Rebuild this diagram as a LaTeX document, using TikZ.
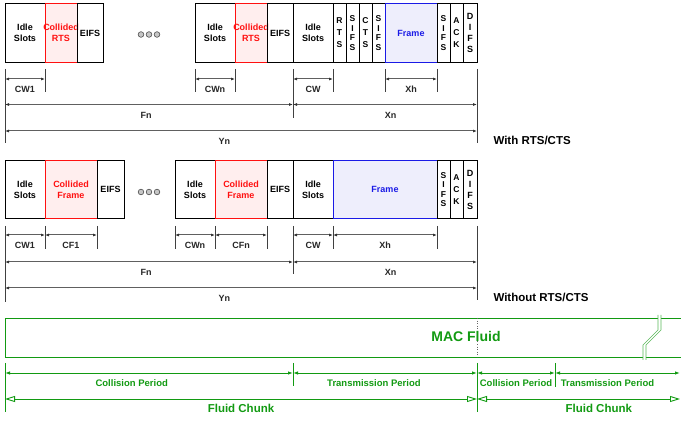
\documentclass[tikz,border=0pt]{standalone}
\usepackage{fontspec}
\setmainfont{Liberation Sans}
\usetikzlibrary{positioning,arrows.meta}
\definecolor{colred}{HTML}{FF1010}
\definecolor{colfill}{HTML}{FFEEEE}
\definecolor{frmblue}{HTML}{1A1AE6}
\definecolor{frmfill}{HTML}{EEEEFC}
\definecolor{dimgray}{HTML}{606060}
\definecolor{fluidgreen}{HTML}{129A12}
\newcommand\slotfont{\fontsize{9}{11}\selectfont\bfseries}
\tikzset{
  slot/.style={draw, line width=0.9pt, minimum width=#1, minimum height=58.5pt,
    inner sep=0pt, outer sep=0pt, align=center, anchor=west, font=\slotfont},
  slot/.default=40pt,
  vslot/.style={slot=13pt, font=\fontsize{8.5}{12}\selectfont\bfseries},
  vslotf/.style={slot=13pt, font=\fontsize{8.5}{9.5}\selectfont\bfseries},
  coll/.style={slot=#1, draw=colred, fill=colfill, text=colred},
  frm/.style={slot=#1, draw=frmblue, fill=frmfill, text=frmblue},
  dotmark/.style={draw=black!70, fill=gray!45, line width=0.6pt},
  tick/.style={draw=black!75, line width=0.8pt},
  dim/.style={draw=dimgray, line width=1pt,
    {Latex[length=4pt,width=3pt,color=black!80]}-{Latex[length=4pt,width=3pt,color=black!80]}},
  dimlab/.style={font=\fontsize{9}{10}\selectfont\bfseries, yshift=-10.5pt, text=black!85},
  caption/.style={font=\fontsize{11.5}{13}\selectfont\bfseries, anchor=west},
  gline/.style={draw=fluidgreen, line width=0.9pt},
  gcut/.style={draw=fluidgreen!70, line width=0.6pt},
  gdim/.style={gline, {Latex[length=5pt,width=3.5pt]}-{Latex[length=5pt,width=3.5pt]}},
  gchunk/.style={gline, {Triangle[open,length=10pt,width=6pt]}-{Triangle[open,length=10pt,width=6pt]}},
  glab/.style={font=\fontsize{9.5}{11}\selectfont\bfseries, text=fluidgreen, yshift=-10pt},
}

\begin{document}
\begin{tikzpicture}[x=1pt, y=-1pt]
\useasboundingbox (0,0) rectangle (681,422);

% ---- With RTS/CTS ----
\node[slot] (aidl1) at (5,33) {Idle\\Slots};
\node[coll=32pt, right=0pt of aidl1,
  label={[align=center, text=colred, font=\slotfont]center:{Collided\\RTS}}] (arts1) {};
\node[slot=26pt, right=0pt of arts1] (aeif1) {EIFS};
\foreach \dx in {0,8,16} \draw[dotmark] (141+\dx,34.5) circle (2.8pt);
\node[slot] (aidl2) at (195,33) {Idle\\Slots};
\node[coll=32pt, right=0pt of aidl2,
  label={[align=center, text=colred, font=\slotfont]center:{Collided\\RTS}}] (arts2) {};
\node[slot=26pt, right=0pt of arts2] (aeif2) {EIFS};
\node[slot, right=0pt of aeif2] (aidl3) {Idle\\Slots};
\node[vslot, right=0pt of aidl3] (arts) {R\\T\\S};
\node[vslotf, right=0pt of arts] (asif1) {S\\I\\F\\S};
\node[vslot, right=0pt of asif1] (acts) {C\\T\\S};
\node[vslotf, right=0pt of acts] (asif2) {S\\I\\F\\S};
\node[frm=52pt, right=0pt of asif2] (afrm) {Frame};
\node[vslotf, right=0pt of afrm] (asif3) {S\\I\\F\\S};
\node[vslot, right=0pt of asif3] (aack) {A\\C\\K};
\node[vslotf, slot=14pt, right=0pt of aack] (adif) {D\\I\\F\\S};

\foreach \n in {aidl1.east, aidl2.west, aidl2.east, aidl3.east, afrm.west, afrm.east}
  \draw[tick] (\n |- 0,69) -- (\n |- 0,92);
\draw[tick] (aidl1.west |- 0,69) -- (aidl1.west |- 0,143);
\draw[tick] (aidl3.west |- 0,69) -- (aidl3.west |- 0,118);
\draw[tick] (adif.east |- 0,69) -- (adif.east |- 0,143);

\draw[dim] (aidl1.west |- 0,79) -- node[dimlab]{CW1} (aidl1.east |- 0,79);
\draw[dim] (aidl2.west |- 0,79) -- node[dimlab]{CWn} (aidl2.east |- 0,79);
\draw[dim] (aidl3.west |- 0,79) -- node[dimlab]{CW} (aidl3.east |- 0,79);
\draw[dim] (afrm.west |- 0,79) -- node[dimlab]{Xh} (afrm.east |- 0,79);
\draw[dim] (aidl1.west |- 0,104.5) -- node[dimlab, pos=0.49]{Fn} (aidl3.west |- 0,104.5);
\draw[dim] (aidl3.west |- 0,104.5) -- node[dimlab, pos=0.53]{Xn} (adif.east |- 0,104.5);
\draw[dim] (aidl1.west |- 0,131) -- node[dimlab, pos=0.465]{Yn} (adif.east |- 0,131);
\node[caption] (acap) at (490,140) {With RTS/CTS};

% ---- Without RTS/CTS ----
\node[slot] (bidl1) at (5,189.5) {Idle\\Slots};
\node[coll=52pt, right=0pt of bidl1] (bcol1) {Collided\\Frame};
\node[slot=27pt, right=0pt of bcol1] (beif1) {EIFS};
\foreach \dx in {0,8,16} \draw[dotmark] (141+\dx,192) circle (2.8pt);
\node[slot] (bidl2) at (175,189.5) {Idle\\Slots};
\node[coll=52pt, right=0pt of bidl2] (bcol2) {Collided\\Frame};
\node[slot=26pt, right=0pt of bcol2] (beif2) {EIFS};
\node[slot, right=0pt of beif2] (bidl3) {Idle\\Slots};
\node[frm=104pt, right=0pt of bidl3] (bfrm) {Frame};
\node[vslotf, right=0pt of bfrm] (bsif) {S\\I\\F\\S};
\node[vslot, right=0pt of bsif] (back) {A\\C\\K};
\node[vslotf, slot=14pt, right=0pt of back] (bdif) {D\\I\\F\\S};

\foreach \n in {bidl1.east, bcol1.east, bidl2.west, bidl2.east, bcol2.east, bidl3.east, bfrm.east}
  \draw[tick] (\n |- 0,226) -- (\n |- 0,249);
\draw[tick] (bidl1.west |- 0,226) -- (bidl1.west |- 0,302);
\draw[tick] (bidl3.west |- 0,226) -- (bidl3.west |- 0,274);
\draw[tick] (bdif.east |- 0,226) -- (bdif.east |- 0,300);

\draw[dim] (bidl1.west |- 0,235) -- node[dimlab]{CW1} (bidl1.east |- 0,235);
\draw[dim] (bcol1.west |- 0,235) -- node[dimlab]{CF1} (bcol1.east |- 0,235);
\draw[dim] (bidl2.west |- 0,235) -- node[dimlab]{CWn} (bidl2.east |- 0,235);
\draw[dim] (bcol2.west |- 0,235) -- node[dimlab]{CFn} (bcol2.east |- 0,235);
\draw[dim] (bidl3.west |- 0,235) -- node[dimlab]{CW} (bidl3.east |- 0,235);
\draw[dim] (bfrm.west |- 0,235) -- node[dimlab]{Xh} (bfrm.east |- 0,235);
\draw[dim] (bidl1.west |- 0,262) -- node[dimlab, pos=0.49]{Fn} (bidl3.west |- 0,262);
\draw[dim] (bidl3.west |- 0,262) -- node[dimlab, pos=0.53]{Xn} (bdif.east |- 0,262);
\draw[dim] (bidl1.west |- 0,288) -- node[dimlab, pos=0.465]{Yn} (bdif.east |- 0,288);
\node[caption] (bcap) at (490,297) {Without RTS/CTS};

% ---- MAC fluid ----
\coordinate (gsplit) at (555,373);
\coordinate (gend) at (680,373);
\draw[gline] (658,318) -- (5,318) -- (5,357) -- (643,357);
\draw[gcut] (658,315) -- (658,330) -- (643,345) -- (643,360);
\draw[gline] (661,318) -- (681,318);
\draw[gline] (646,357) -- (681,357);
\draw[gcut] (661,315) -- (661,330) -- (646,345) -- (646,360);
\draw[black!60, dotted, line width=0.6pt] (adif.east |- 0,318) -- (adif.east |- 0,357);
\node[font=\fontsize{14}{16}\selectfont\bfseries, text=fluidgreen] (mac) at (466,336) {MAC Fluid};

\draw[gline] (aidl1.west |- 0,363) -- (aidl1.west |- 0,412);
\draw[gline] (aidl3.west |- 0,363) -- (aidl3.west |- 0,386);
\draw[gline] (adif.east |- 0,363) -- (adif.east |- 0,412);
\draw[gline] (gsplit |- 0,363) -- (gsplit |- 0,387);

\draw[gdim] (aidl1.west |- 0,373) -- node[glab, pos=0.44]{Collision Period} (aidl3.west |- 0,373);
\draw[gdim] (aidl3.west |- 0,373) -- node[glab, pos=0.44]{Transmission Period} (adif.east |- 0,373);
\draw[gdim] (adif.east |- 0,373) -- node[glab]{Collision Period} (gsplit);
\draw[gdim] (gsplit) -- node[glab, pos=0.42]{Transmission Period} (gend);
\draw[gchunk] (aidl1.west |- 0,399) -- node[glab, font=\fontsize{11.5}{13}\selectfont\bfseries, yshift=0.5pt]{Fluid Chunk} (adif.east |- 0,399);
\draw[gchunk] (adif.east |- 0,399) -- node[glab, font=\fontsize{11.5}{13}\selectfont\bfseries, yshift=0.5pt, pos=0.6]{Fluid Chunk} (gend |- 0,399);

\end{tikzpicture}
\end{document}
